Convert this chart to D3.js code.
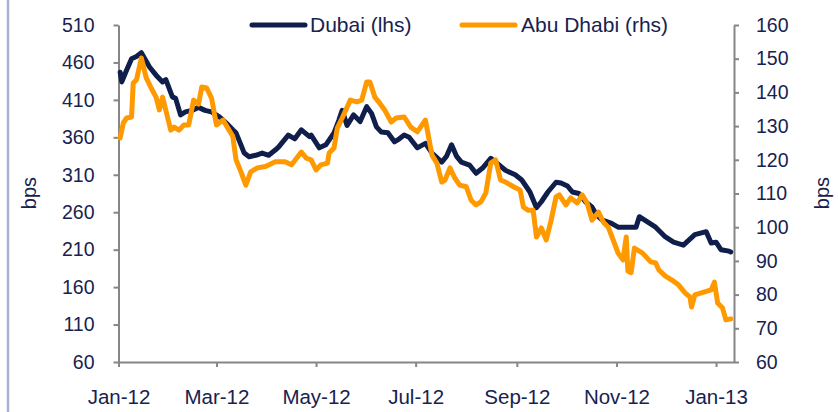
<!DOCTYPE html>
<html><head><meta charset="utf-8">
<script src="https://cdn.jsdelivr.net/npm/d3@7"></script>
<style>
html,body{margin:0;padding:0;background:#fff;}
text{font-family:"Liberation Sans",Arial,sans-serif;fill:#17224f;}
</style></head>
<body>
<svg id="c" width="838" height="412"></svg>
<script>
const dubaiDates = ["2012-01-02","2012-01-03","2012-01-06","2012-01-09","2012-01-12","2012-01-15","2012-01-20","2012-01-24","2012-01-28","2012-01-30","2012-02-03","2012-02-05","2012-02-08","2012-02-11","2012-02-15","2012-02-19","2012-02-23","2012-02-27","2012-03-03","2012-03-07","2012-03-11","2012-03-13","2012-03-16","2012-03-18","2012-03-21","2012-03-25","2012-03-29","2012-04-02","2012-04-06","2012-04-08","2012-04-14","2012-04-18","2012-04-22","2012-04-27","2012-04-28","2012-05-03","2012-05-07","2012-05-12","2012-05-15","2012-05-17","2012-05-20","2012-05-24","2012-05-28","2012-06-01","2012-06-04","2012-06-07","2012-06-10","2012-06-14","2012-06-18","2012-06-21","2012-06-24","2012-06-27","2012-07-02","2012-07-07","2012-07-11","2012-07-17","2012-07-20","2012-07-23","2012-07-26","2012-07-29","2012-08-03","2012-08-07","2012-08-11","2012-08-16","2012-08-20","2012-08-25","2012-08-31","2012-09-04","2012-09-09","2012-09-13","2012-09-16","2012-09-20","2012-09-25","2012-09-28","2012-10-02","2012-10-05","2012-10-09","2012-10-13","2012-10-17","2012-10-20","2012-10-23","2012-10-29","2012-11-02","2012-11-08","2012-11-13","2012-11-15","2012-11-20","2012-11-25","2012-12-01","2012-12-06","2012-12-12","2012-12-19","2012-12-26","2012-12-29","2013-01-01","2013-01-04","2013-01-09","2013-01-10"];
const dubaiValues = [447,434,450,465,468,473,454,443,434,437,414,412,390,394,396,400,396,394,387,379,370,366,350,339,334,336,339,336,343,347,363,358,370,361,363,346,350,366,383,396,376,390,381,401,392,374,367,366,354,358,363,360,346,352,339,327,335,350,335,327,323,312,319,332,325,316,310,303,287,266,274,287,300,299,295,287,285,274,267,256,250,245,240,240,240,254,247,240,227,220,216,230,234,219,220,210,208,207];

const abuDates = ["2012-01-02","2012-01-04","2012-01-06","2012-01-09","2012-01-10","2012-01-12","2012-01-15","2012-01-18","2012-01-21","2012-01-24","2012-01-26","2012-01-28","2012-01-31","2012-02-02","2012-02-04","2012-02-07","2012-02-10","2012-02-13","2012-02-16","2012-02-19","2012-02-21","2012-02-24","2012-02-27","2012-03-01","2012-03-05","2012-03-08","2012-03-11","2012-03-13","2012-03-16","2012-03-19","2012-03-22","2012-03-26","2012-03-31","2012-04-06","2012-04-12","2012-04-16","2012-04-22","2012-04-25","2012-04-28","2012-05-01","2012-05-04","2012-05-08","2012-05-09","2012-05-12","2012-05-14","2012-05-17","2012-05-22","2012-05-26","2012-05-29","2012-06-01","2012-06-03","2012-06-06","2012-06-09","2012-06-12","2012-06-16","2012-06-19","2012-06-24","2012-06-28","2012-07-02","2012-07-07","2012-07-10","2012-07-11","2012-07-14","2012-07-17","2012-07-19","2012-07-22","2012-07-25","2012-07-28","2012-08-01","2012-08-04","2012-08-07","2012-08-10","2012-08-13","2012-08-16","2012-08-19","2012-08-22","2012-08-25","2012-08-30","2012-09-03","2012-09-05","2012-09-08","2012-09-11","2012-09-13","2012-09-16","2012-09-19","2012-09-22","2012-09-25","2012-09-27","2012-10-01","2012-10-04","2012-10-08","2012-10-11","2012-10-14","2012-10-17","2012-10-21","2012-10-24","2012-10-27","2012-10-30","2012-11-02","2012-11-05","2012-11-07","2012-11-08","2012-11-10","2012-11-12","2012-11-17","2012-11-22","2012-11-25","2012-11-27","2012-12-01","2012-12-05","2012-12-09","2012-12-13","2012-12-16","2012-12-17","2012-12-19","2012-12-23","2012-12-29","2012-12-31","2013-01-02","2013-01-05","2013-01-07","2013-01-10"];
const abuValues = [126.5,131,132.4,132.7,142.8,143.7,150.2,144.3,141.3,138.6,134.8,138.6,132.7,128.8,129.7,128.8,130.3,130.3,137.7,136.5,141.6,141.3,138.3,130.3,131.8,129.4,127,120,116.4,112.5,116.4,117.6,118,119.4,119.4,118.5,122.3,120.5,120,117,118.5,119,122,123.5,129.4,132.4,137.7,137.2,137.7,143.1,143.1,138.6,136.8,134.8,131.2,132.4,132.7,129.7,128.3,131.8,124,121.4,119,113.4,114,117.6,114.6,112.5,112,108,106.6,107.5,110.2,119,120,114,113.4,112,111,106,105,105,97.1,99.8,96.2,102.1,109,109.6,106.6,108.7,107.2,109.6,107.2,102.1,104.5,101.5,100,96.2,92.3,90.3,97.1,87,86.5,93.8,92.3,89.7,89.4,87.3,85.5,84.3,82.9,80.5,79.3,76.3,79.9,80.5,81.4,83.7,77.5,76,72.5,72.8];

const leftTicks = [60,110,160,210,260,310,360,410,460,510];
const rightTicks = [60,70,80,90,100,110,120,130,140,150,160];
const seriesNames = ["Dubai (lhs)","Abu Dhabi (rhs)"];
const seriesColors = ["#101e4b","#ff9900"];

const parse = d3.timeParse("%Y-%m-%d");
const svg = d3.select("#c");
const L = 118.5, R = 734, T = 25, B = 362;

const x = d3.scaleTime().domain([new Date(2012,0,1), new Date(2013,0,12)]).range([L, R]);
const yL = d3.scaleLinear().domain([60,510]).range([B, T]);
const yR = d3.scaleLinear().domain([60,160]).range([B, T]);

// left decorative border
svg.append("line").attr("x1",8).attr("x2",8).attr("y1",0).attr("y2",412)
  .attr("stroke","#aab0d2").attr("stroke-width",2.5);

const axisColor = "#868686";
function styleAxis(g){
  g.select(".domain").attr("stroke",axisColor).attr("stroke-width",2);
  g.selectAll(".tick line").attr("stroke",axisColor).attr("stroke-width",2);
  g.selectAll(".tick text").attr("fill","#17224f").style("font-size","19.5px");
}

const gx = svg.append("g").attr("transform",`translate(0,${B})`)
  .call(d3.axisBottom(x).ticks(d3.timeMonth.every(2)).tickFormat(d3.timeFormat("%b-%y")).tickSize(5).tickSizeOuter(0));
styleAxis(gx);
gx.selectAll(".tick text").attr("y",42).attr("dy",0).style("font-size","20.5px");

const gl = svg.append("g").attr("transform",`translate(${L},0)`)
  .call(d3.axisLeft(yL).tickValues(leftTicks).tickSize(5).tickSizeOuter(0).tickPadding(19));
styleAxis(gl);

const gr = svg.append("g").attr("transform",`translate(${R},0)`)
  .call(d3.axisRight(yR).tickValues(rightTicks).tickSize(5).tickSizeOuter(0).tickPadding(17));
styleAxis(gr);

// axis titles
svg.append("text").attr("transform","translate(36,193) rotate(-90)").attr("text-anchor","middle")
  .style("font-size","20px").text("bps");
svg.append("text").attr("transform","translate(829,193) rotate(-90)").attr("text-anchor","middle")
  .style("font-size","20px").text("bps");

const dubai = dubaiDates.map((d,i)=>({date:parse(d), v:dubaiValues[i]}));
const abu = abuDates.map((d,i)=>({date:parse(d), v:abuValues[i]}));

svg.append("path").datum(dubai).attr("fill","none").attr("stroke",seriesColors[0])
  .attr("stroke-width",5).attr("stroke-linejoin","round").attr("stroke-linecap","round")
  .attr("d", d3.line().x(d=>x(d.date)).y(d=>yL(d.v)));
svg.append("path").datum(abu).attr("fill","none").attr("stroke",seriesColors[1])
  .attr("stroke-width",5).attr("stroke-linejoin","round").attr("stroke-linecap","round")
  .attr("d", d3.line().x(d=>x(d.date)).y(d=>yR(d.v)));

// legend
const leg = [{x1:252,x2:305,tx:310},{x1:462,x2:515,tx:521}];
leg.forEach((l,i)=>{
  svg.append("line").attr("x1",l.x1).attr("x2",l.x2).attr("y1",25).attr("y2",25)
    .attr("stroke",seriesColors[i]).attr("stroke-width",5).attr("stroke-linecap","round");
  svg.append("text").attr("x",l.tx).attr("y",25).attr("dy","0.35em").style("font-size","21px").text(seriesNames[i]);
});
</script>
</body></html>
